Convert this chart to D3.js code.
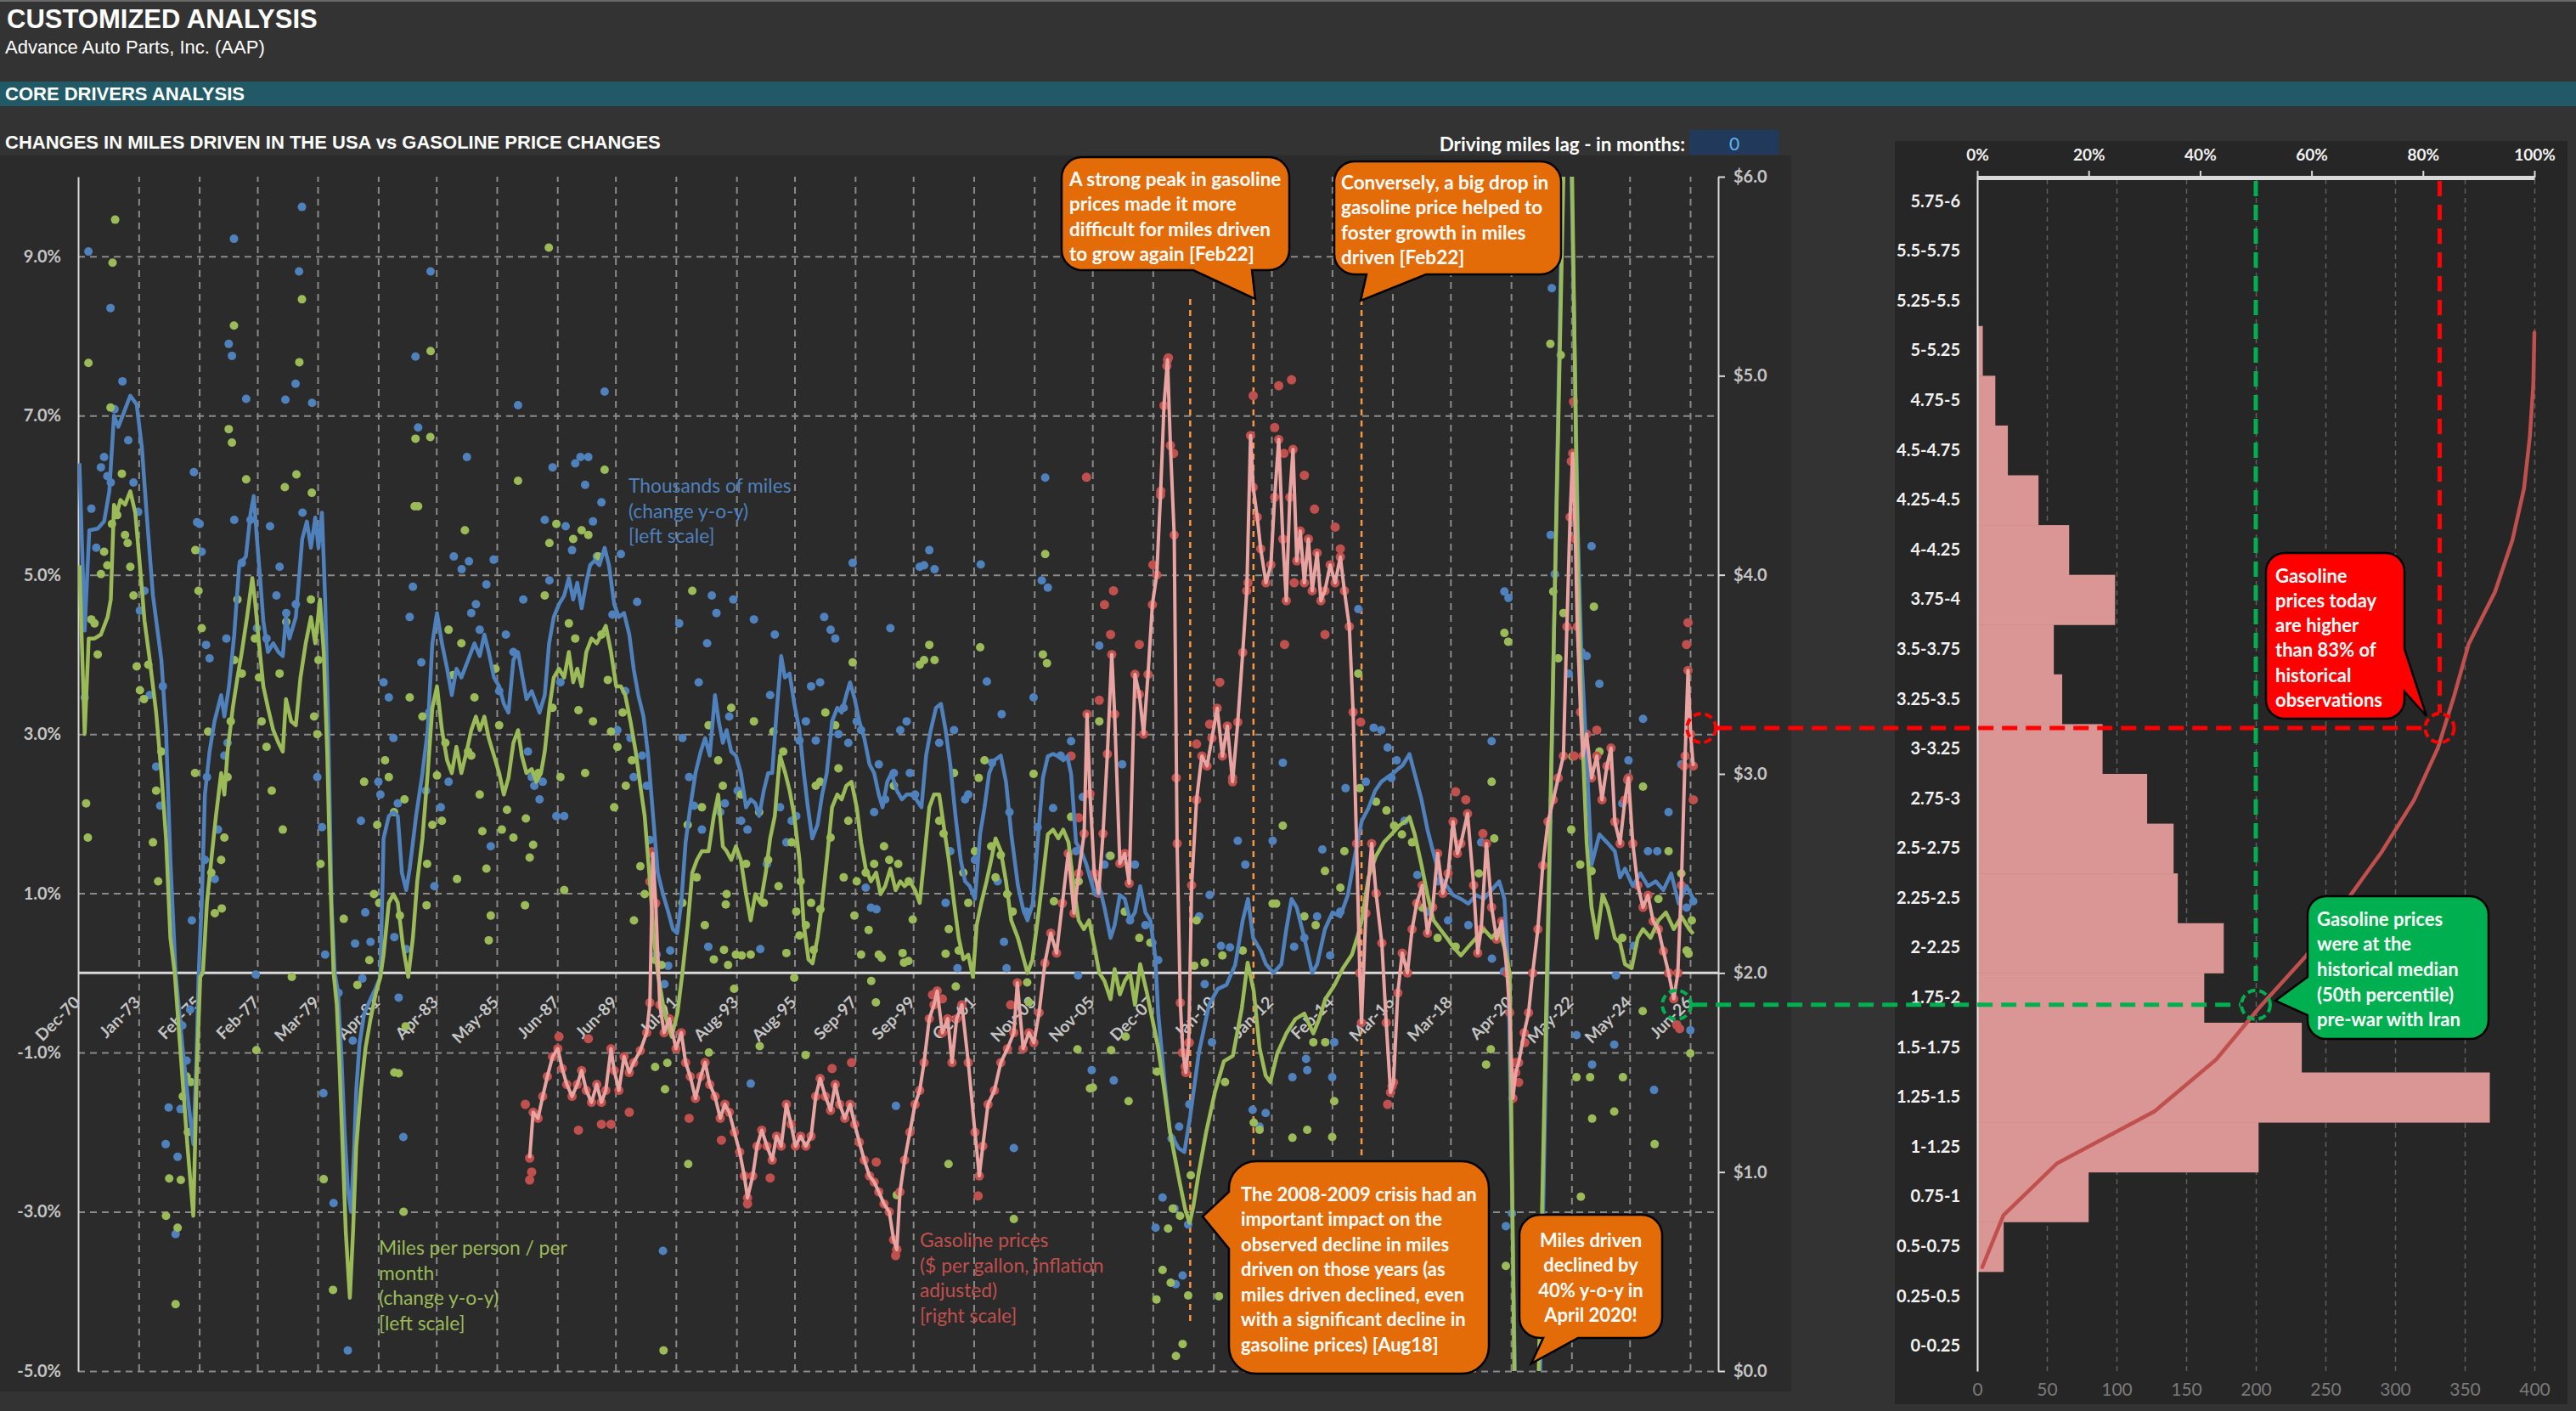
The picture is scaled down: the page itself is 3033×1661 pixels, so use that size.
<!DOCTYPE html>
<meta charset="utf-8" />
<style>
  body { margin: 0; background: #333333; }
  svg text { font-family: Lato, "Open Sans", sans-serif; }
  .hdr { font-family: "Liberation Sans", Arial, sans-serif !important; fill: #fff; }
</style>
<body>
<svg id="chart" width="3033" height="1661"></svg>
</body>
<script src="https://d3js.org/d3.v7.min.js"></script>
<script>
// ---------- data ----------
const tickLabels = ["Dec-70","Jan-73","Feb-75","Feb-77","Mar-79","Apr-81","Apr-83","May-85","Jun-87","Jun-89","Jul-91","Aug-93","Aug-95","Sep-97","Sep-99","Oct-01","Nov-03","Nov-05","Dec-07","Jan-10","Jan-12","Feb-14","Mar-16","Mar-18","Apr-20","May-22","May-24","Jun-26"];
const leftTicks = [-5, -3, -1, 1, 3, 5, 7, 9];
const rightTicks = [0, 1, 2, 3, 4, 5, 6];

// thousands of miles, y-o-y % (smoothed line)
const blueLine = [[1970.96,6.4],[1971.14,4.3],[1971.3,5.56],[1971.59,5.58],[1971.81,5.67],[1971.99,6.05],[1972.15,7.0],[1972.3,6.86],[1972.48,7.03],[1972.71,7.25],[1972.93,7.14],[1973.11,6.59],[1973.27,5.78],[1973.49,4.74],[1973.78,3.93],[1973.94,3.05],[1974.09,1.42],[1974.27,0.0],[1974.5,-0.9],[1974.7,-1.6],[1974.88,-2.15],[1974.99,-1.1],[1975.06,-0.05],[1975.17,0.88],[1975.28,2.24],[1975.44,2.78],[1975.61,3.16],[1975.84,3.49],[1975.95,3.22],[1976.11,3.6],[1976.29,4.25],[1976.46,5.12],[1976.69,5.23],[1976.85,5.77],[1976.96,5.99],[1977.07,5.45],[1977.18,4.96],[1977.29,4.42],[1977.45,4.03],[1977.63,4.14],[1977.81,4.03],[1977.96,3.98],[1978.07,4.47],[1978.19,4.2],[1978.41,4.47],[1978.63,5.45],[1978.79,5.67],[1978.93,5.34],[1979.08,5.72],[1979.19,5.34],[1979.31,5.78],[1979.42,4.69],[1979.53,3.05],[1979.64,0.88],[1979.75,0.0],[1979.86,-0.23],[1979.98,-1.04],[1980.09,-2.0],[1980.2,-2.71],[1980.31,-3.0],[1980.42,-2.18],[1980.49,-1.47],[1980.6,-0.9],[1980.76,-0.51],[1980.98,-0.33],[1981.16,-0.19],[1981.32,-0.05],[1981.43,1.69],[1981.61,1.97],[1981.77,2.02],[1981.92,1.97],[1982.06,1.26],[1982.21,1.04],[1982.33,1.31],[1982.55,1.97],[1982.77,2.51],[1982.95,3.05],[1983.11,4.14],[1983.27,4.52],[1983.44,4.14],[1983.62,3.82],[1983.78,3.49],[1983.94,3.82],[1984.11,3.71],[1984.34,3.93],[1984.56,4.14],[1984.74,3.98],[1984.9,4.25],[1985.05,4.03],[1985.23,3.71],[1985.41,3.6],[1985.57,3.38],[1985.73,3.27],[1985.9,3.93],[1986.06,4.03],[1986.19,3.76],[1986.35,3.44],[1986.53,3.54],[1986.69,3.38],[1986.8,3.27],[1986.98,3.49],[1987.13,4.14],[1987.29,4.47],[1987.47,4.63],[1987.65,4.74],[1987.81,4.96],[1987.96,4.69],[1988.1,4.9],[1988.25,4.58],[1988.41,4.9],[1988.54,5.12],[1988.7,5.18],[1988.86,5.12],[1989.04,5.34],[1989.19,5.12],[1989.37,4.63],[1989.53,4.47],[1989.71,4.52],[1989.89,4.25],[1990.04,3.82],[1990.2,3.49],[1990.38,3.22],[1990.54,2.73],[1990.71,1.97],[1990.87,1.26],[1991.05,0.99],[1991.23,0.77],[1991.39,0.55],[1991.54,0.5],[1991.68,0.88],[1991.83,1.64],[1991.99,2.08],[1992.17,2.51],[1992.35,2.78],[1992.5,2.95],[1992.66,2.73],[1992.84,3.49],[1992.97,3.16],[1993.11,2.89],[1993.24,3.05],[1993.4,2.78],[1993.56,2.73],[1993.73,2.51],[1993.91,2.08],[1994.07,2.18],[1994.23,2.13],[1994.36,1.97],[1994.52,2.29],[1994.67,2.51],[1994.81,2.51],[1994.96,3.27],[1995.12,3.98],[1995.25,3.71],[1995.41,3.76],[1995.57,3.38],[1995.75,3.05],[1995.9,2.51],[1996.04,2.08],[1996.19,1.69],[1996.37,1.86],[1996.53,2.24],[1996.69,2.51],[1996.87,3.16],[1997.05,3.33],[1997.2,3.27],[1997.36,3.49],[1997.49,3.65],[1997.65,3.44],[1997.81,3.16],[1997.98,2.95],[1998.16,2.62],[1998.32,2.51],[1998.48,2.24],[1998.61,2.08],[1998.77,2.4],[1998.92,2.51],[1999.1,2.29],[1999.28,2.18],[1999.44,2.24],[1999.59,2.24],[1999.77,2.18],[1999.95,2.08],[2000.11,2.73],[2000.27,3.05],[2000.45,3.33],[2000.62,3.38],[2000.78,3.05],[2000.94,2.62],[2001.12,1.97],[2001.3,1.42],[2001.45,1.15],[2001.61,1.09],[2001.79,0.93],[2001.97,1.75],[2002.12,2.08],[2002.28,2.51],[2002.46,2.67],[2002.68,2.73],[2002.86,2.4],[2003.04,1.75],[2003.27,1.1],[2003.45,0.8],[2003.6,0.66],[2003.78,0.87],[2003.95,1.64],[2004.13,2.45],[2004.3,2.72],[2004.48,2.75],[2004.66,2.72],[2004.83,2.67],[2004.97,2.72],[2005.1,2.5],[2005.27,1.64],[2005.45,1.53],[2005.63,1.36],[2005.75,1.2],[2005.93,0.98],[2006.07,1.09],[2006.25,0.82],[2006.46,0.44],[2006.6,0.6],[2006.78,0.98],[2006.95,0.93],[2007.13,0.66],[2007.3,0.76],[2007.48,1.09],[2007.66,0.76],[2007.83,0.66],[2008.0,0.2],[2008.1,-0.5],[2008.3,-1.3],[2008.5,-2.0],[2008.8,-2.2],[2009.0,-2.25],[2009.2,-1.8],[2009.5,-1.0],[2009.85,-0.4],[2010.15,-0.2],[2010.45,-0.15],[2010.75,0.1],[2011.01,0.66],[2011.19,0.93],[2011.37,0.44],[2011.63,0.28],[2011.81,0.11],[2012.07,0.0],[2012.34,0.11],[2012.51,0.55],[2012.69,0.93],[2012.87,0.82],[2013.13,0.44],[2013.4,0.0],[2013.57,0.11],[2013.84,0.55],[2014.1,0.76],[2014.37,0.71],[2014.63,0.98],[2014.9,1.53],[2015.11,1.91],[2015.34,2.07],[2015.57,2.29],[2015.78,2.4],[2015.96,2.45],[2016.17,2.5],[2016.35,2.56],[2016.52,2.61],[2016.75,2.75],[2016.93,2.5],[2017.16,2.18],[2017.37,1.8],[2017.6,1.47],[2017.81,1.2],[2018.04,1.09],[2018.25,0.98],[2018.52,0.93],[2018.78,0.87],[2019.05,0.98],[2019.31,0.93],[2019.58,1.04],[2019.84,1.15],[2020.02,0.93],[2020.16,0.0],[2020.38,-5],[2020.5,-12],[2021.0,-10],[2021.25,-5],[2022.02,10],[2022.15,12],[2022.25,12],[2022.33,10],[2022.55,5.5],[2022.67,4.0],[2022.85,2.7],[2023.02,1.36],[2023.29,1.74],[2023.55,1.64],[2023.82,1.53],[2024.0,1.2],[2024.17,1.31],[2024.44,1.09],[2024.7,1.25],[2024.96,1.09],[2025.23,1.15],[2025.49,1.04],[2025.76,1.25],[2026.02,0.87],[2026.29,1.09],[2026.52,0.93]];

// miles per person per month, y-o-y % (smoothed line)
const greenLine = [[1970.96,5.12],[1971.14,3.0],[1971.28,4.2],[1971.48,4.2],[1971.7,4.25],[1971.93,4.47],[1972.04,4.69],[1972.15,5.88],[1972.26,5.78],[1972.37,5.94],[1972.53,5.88],[1972.71,6.05],[1972.88,5.78],[1973.04,5.12],[1973.2,4.42],[1973.38,3.93],[1973.6,3.27],[1973.78,2.51],[1973.94,1.69],[1974.09,0.44],[1974.24,0.0],[1974.32,-0.4],[1974.5,-1.29],[1974.68,-2.18],[1974.88,-3.05],[1975.01,-1.12],[1975.12,-0.05],[1975.21,0.0],[1975.35,0.88],[1975.5,1.42],[1975.66,1.97],[1975.84,2.51],[1975.95,2.24],[1976.06,2.78],[1976.24,3.33],[1976.4,3.71],[1976.55,4.03],[1976.73,4.47],[1976.91,4.96],[1977.0,4.69],[1977.14,4.14],[1977.29,3.6],[1977.45,3.33],[1977.63,3.05],[1977.81,2.89],[1977.96,2.78],[1978.07,3.44],[1978.25,3.16],[1978.41,3.11],[1978.57,3.71],[1978.75,4.14],[1978.93,4.47],[1979.08,4.14],[1979.24,4.69],[1979.37,4.03],[1979.49,2.78],[1979.6,1.15],[1979.71,0.0],[1979.82,-0.4],[1979.91,-1.12],[1980.02,-2.18],[1980.13,-3.25],[1980.27,-4.08],[1980.38,-3.25],[1980.49,-2.18],[1980.65,-1.47],[1980.81,-0.94],[1980.98,-0.58],[1981.16,-0.26],[1981.32,-0.05],[1981.43,0.23],[1981.61,0.88],[1981.77,0.99],[1981.92,0.88],[1982.1,0.33],[1982.28,-0.05],[1982.44,0.44],[1982.59,1.15],[1982.77,1.69],[1982.95,2.51],[1983.11,3.33],[1983.27,3.6],[1983.44,3.05],[1983.62,2.67],[1983.78,2.51],[1983.94,2.84],[1984.11,2.51],[1984.29,2.78],[1984.45,3.05],[1984.61,3.22],[1984.74,3.05],[1984.9,3.22],[1985.05,2.95],[1985.23,2.73],[1985.41,2.51],[1985.57,2.24],[1985.73,2.45],[1985.9,2.89],[1986.06,3.05],[1986.19,2.73],[1986.35,2.51],[1986.53,2.56],[1986.69,2.4],[1986.85,2.51],[1986.98,2.78],[1987.14,3.33],[1987.29,3.71],[1987.47,3.82],[1987.65,3.71],[1987.81,4.03],[1987.96,3.65],[1988.1,3.82],[1988.25,3.6],[1988.41,4.03],[1988.59,4.2],[1988.77,4.14],[1988.93,4.25],[1989.08,4.36],[1989.26,4.03],[1989.44,3.6],[1989.6,3.6],[1989.75,3.49],[1989.93,3.16],[1990.11,2.78],[1990.27,2.35],[1990.42,1.97],[1990.6,1.15],[1990.74,0.44],[1990.87,0.0],[1991.1,-0.5],[1991.35,-0.8],[1991.55,-0.5],[1991.72,0.0],[1991.9,0.6],[1992.06,1.26],[1992.22,1.42],[1992.39,1.53],[1992.62,1.53],[1992.8,1.97],[1992.95,2.24],[1993.11,1.59],[1993.24,1.53],[1993.4,1.42],[1993.56,1.59],[1993.73,1.42],[1993.91,0.99],[1994.07,0.66],[1994.23,0.99],[1994.41,0.88],[1994.59,1.26],[1994.74,1.69],[1994.9,1.97],[1995.08,2.73],[1995.26,2.51],[1995.41,2.29],[1995.57,1.97],[1995.75,1.42],[1995.9,0.6],[1996.06,0.17],[1996.2,0.12],[1996.37,0.44],[1996.53,0.88],[1996.69,1.42],[1996.87,2.08],[1997.05,2.24],[1997.2,2.18],[1997.36,2.35],[1997.54,2.4],[1997.72,2.08],[1997.87,1.64],[1998.03,1.31],[1998.21,1.15],[1998.39,1.26],[1998.54,0.99],[1998.7,1.09],[1998.88,1.31],[1999.06,1.04],[1999.22,1.15],[1999.37,1.09],[1999.55,1.15],[1999.73,1.04],[1999.89,0.88],[2000.04,1.42],[2000.22,2.08],[2000.38,2.24],[2000.56,2.24],[2000.71,1.86],[2000.89,1.42],[2001.07,0.88],[2001.23,0.44],[2001.39,0.17],[2001.56,0.23],[2001.72,-0.05],[2001.85,0.6],[2002.01,0.88],[2002.19,1.15],[2002.35,1.42],[2002.5,1.69],[2002.68,1.53],[2002.86,1.15],[2003.04,0.66],[2003.27,0.44],[2003.6,0.0],[2003.77,0.17],[2003.95,0.66],[2004.13,1.2],[2004.3,1.74],[2004.48,1.8],[2004.66,1.69],[2004.83,1.8],[2005.01,1.64],[2005.19,1.09],[2005.36,0.66],[2005.54,0.55],[2005.72,0.66],[2005.93,0.28],[2006.07,0.0],[2006.25,-0.1],[2006.46,-0.33],[2006.6,0.05],[2006.78,-0.27],[2006.95,-0.1],[2007.13,0.0],[2007.3,-0.4],[2007.48,0.11],[2007.7,-0.23],[2007.9,-0.58],[2008.1,-0.94],[2008.31,-1.47],[2008.51,-2.0],[2008.66,-2.29],[2008.85,-2.65],[2009.03,-2.97],[2009.18,-3.14],[2009.31,-2.93],[2009.5,-2.5],[2009.75,-2.0],[2010.05,-1.5],[2010.36,-1.11],[2010.67,-1.04],[2010.98,-0.44],[2011.18,0.13],[2011.39,-0.23],[2011.59,-0.94],[2011.8,-1.29],[2011.96,-1.37],[2012.2,-1.01],[2012.51,-0.76],[2012.82,-0.58],[2013.13,-0.51],[2013.44,-0.76],[2013.64,-0.58],[2013.85,-0.33],[2014.16,-0.16],[2014.46,0.06],[2014.77,0.23],[2014.98,0.48],[2015.11,0.66],[2015.34,1.2],[2015.6,1.47],[2015.87,1.64],[2016.13,1.74],[2016.4,1.85],[2016.63,1.91],[2016.75,1.96],[2016.93,1.74],[2017.16,1.36],[2017.37,0.98],[2017.58,0.66],[2017.81,0.55],[2018.04,0.44],[2018.25,0.33],[2018.52,0.22],[2018.78,0.33],[2019.05,0.44],[2019.31,0.55],[2019.58,0.44],[2019.84,0.55],[2020.05,0.28],[2020.2,0.0],[2020.36,-5],[2020.45,-12],[2021.0,-10],[2021.2,-5],[2022.05,10],[2022.15,13],[2022.25,13],[2022.35,10],[2022.55,5],[2022.67,3.27],[2022.85,1.64],[2023.02,0.82],[2023.2,0.44],[2023.4,0.98],[2023.58,0.82],[2023.82,0.44],[2024.0,0.38],[2024.17,0.11],[2024.4,0.06],[2024.61,0.44],[2024.79,0.55],[2025.05,0.44],[2025.32,0.66],[2025.58,0.76],[2025.85,0.55],[2026.11,0.71],[2026.38,0.55],[2026.52,0.49]];

// gasoline price, $ per gallon inflation adjusted
const redLine = [[1986.46,1.07],[1986.58,1.3],[1986.75,1.27],[1986.91,1.38],[1987.07,1.48],[1987.25,1.58],[1987.43,1.62],[1987.58,1.52],[1987.74,1.44],[1987.92,1.38],[1988.1,1.44],[1988.25,1.51],[1988.41,1.41],[1988.59,1.35],[1988.77,1.44],[1988.93,1.35],[1989.08,1.41],[1989.26,1.62],[1989.37,1.51],[1989.53,1.41],[1989.71,1.58],[1989.89,1.5],[1990.04,1.55],[1990.27,1.61],[1990.49,1.7],[1990.6,1.85],[1990.7,2.6],[1990.8,2.35],[1990.94,1.84],[1991.09,1.7],[1991.27,1.77],[1991.5,1.62],[1991.68,1.7],[1991.83,1.55],[1991.99,1.48],[1992.17,1.37],[1992.35,1.48],[1992.5,1.55],[1992.66,1.44],[1992.84,1.38],[1993.02,1.27],[1993.18,1.34],[1993.33,1.3],[1993.51,1.2],[1993.69,1.1],[1993.85,0.98],[1993.96,0.87],[1994.14,0.98],[1994.29,1.13],[1994.45,1.21],[1994.63,1.13],[1994.81,1.06],[1994.96,1.18],[1995.12,1.13],[1995.3,1.34],[1995.46,1.24],[1995.61,1.13],[1995.79,1.18],[1995.97,1.13],[1996.15,1.18],[1996.31,1.38],[1996.46,1.47],[1996.64,1.38],[1996.82,1.31],[1996.98,1.44],[1997.13,1.34],[1997.31,1.27],[1997.49,1.34],[1997.65,1.24],[1997.81,1.15],[1997.98,1.06],[1998.16,0.98],[1998.32,0.95],[1998.48,0.9],[1998.66,0.84],[1998.84,0.8],[1998.99,0.66],[1999.1,0.61],[1999.21,0.9],[1999.37,1.06],[1999.55,1.2],[1999.73,1.34],[1999.89,1.41],[2000.04,1.55],[2000.22,1.77],[2000.38,1.84],[2000.49,1.91],[2000.67,1.7],[2000.85,1.77],[2001.0,1.55],[2001.16,1.77],[2001.34,1.84],[2001.56,1.55],[2001.79,1.2],[2001.94,0.98],[2002.06,1.13],[2002.24,1.34],[2002.46,1.41],[2002.68,1.55],[2002.91,1.62],[2003.13,1.7],[2003.25,1.95],[2003.45,1.62],[2003.65,1.7],[2003.82,1.65],[2004.0,1.8],[2004.2,2.05],[2004.4,2.2],[2004.6,2.1],[2004.8,2.35],[2005.0,2.6],[2005.2,2.3],[2005.36,2.5],[2005.55,2.7],[2005.65,3.3],[2005.75,2.9],[2005.9,2.5],[2006.05,2.4],[2006.2,2.7],[2006.35,3.1],[2006.5,3.6],[2006.6,3.3],[2006.78,2.55],[2006.95,2.6],[2007.1,2.45],[2007.3,3.5],[2007.45,3.4],[2007.6,3.2],[2007.75,3.5],[2007.9,3.85],[2008.05,4.0],[2008.18,4.4],[2008.3,4.85],[2008.42,5.08],[2008.52,4.65],[2008.65,4.2],[2008.75,2.65],[2008.86,1.85],[2008.95,1.6],[2009.05,1.5],[2009.15,1.65],[2009.25,2.44],[2009.42,2.87],[2009.6,3.09],[2009.78,3.04],[2009.95,3.18],[2010.13,3.33],[2010.31,3.09],[2010.48,3.24],[2010.66,2.96],[2010.84,3.26],[2011.01,3.61],[2011.15,3.92],[2011.28,4.7],[2011.37,4.44],[2011.51,4.29],[2011.63,4.13],[2011.81,3.96],[2011.98,4.05],[2012.11,4.39],[2012.25,4.68],[2012.39,4.18],[2012.51,3.87],[2012.63,4.39],[2012.74,4.63],[2012.87,4.07],[2012.99,4.22],[2013.13,3.96],[2013.27,4.18],[2013.4,3.92],[2013.57,4.11],[2013.7,3.87],[2013.84,3.92],[2014.02,4.05],[2014.19,3.96],[2014.37,4.09],[2014.51,3.92],[2014.68,3.74],[2014.81,3.31],[2014.93,2.65],[2015.04,2.0],[2015.1,1.75],[2015.25,2.3],[2015.45,2.65],[2015.6,2.4],[2015.8,2.15],[2015.95,1.75],[2016.1,1.4],[2016.2,1.45],[2016.35,1.9],[2016.5,2.1],[2016.68,2.0],[2016.84,2.22],[2017.0,2.35],[2017.19,2.44],[2017.37,2.2],[2017.55,2.33],[2017.72,2.6],[2017.9,2.4],[2018.08,2.5],[2018.25,2.76],[2018.4,2.6],[2018.52,2.65],[2018.75,2.8],[2018.96,2.44],[2019.1,2.1],[2019.22,2.22],[2019.4,2.65],[2019.58,2.33],[2019.75,2.17],[2019.93,2.26],[2020.11,2.0],[2020.2,1.8],[2020.31,1.37],[2020.41,1.5],[2020.51,1.55],[2020.7,1.7],[2020.85,1.8],[2020.99,2.0],[2021.17,2.22],[2021.34,2.54],[2021.52,2.76],[2021.7,2.87],[2021.87,2.98],[2022.05,3.09],[2022.17,3.74],[2022.28,4.29],[2022.37,4.61],[2022.46,4.18],[2022.53,3.74],[2022.64,3.31],[2022.72,3.09],[2022.85,3.2],[2023.02,2.98],[2023.2,3.09],[2023.38,2.87],[2023.55,3.04],[2023.69,3.13],[2023.82,2.76],[2024.0,2.65],[2024.17,2.87],[2024.29,2.98],[2024.44,2.65],[2024.61,2.44],[2024.79,2.33],[2024.96,2.39],[2025.14,2.26],[2025.32,2.22],[2025.49,2.11],[2025.67,2.0],[2025.85,1.87],[2025.99,2.0],[2026.11,2.44],[2026.24,3.09],[2026.34,3.52],[2026.43,3.2],[2026.52,3.04]];

// raw monthly observations (dots)
const blueDots = [[1971.14,3.46],[1971.27,9.06],[1971.37,5.83],[1971.54,5.34],[1971.7,6.35],[1971.81,6.48],[1971.92,6.24],[1972.03,8.35],[1972.04,6.16],[1972.17,7.08],[1972.44,7.43],[1972.64,6.69],[1972.82,6.16],[1972.98,5.79],[1973.04,4.55],[1973.2,4.8],[1973.38,3.49],[1973.6,2.59],[1973.74,2.1],[1973.83,3.6],[1973.93,-2.15],[1974.03,-1.69],[1974.27,-3.28],[1974.34,-2.31],[1974.44,-1.71],[1974.5,-0.66],[1974.65,-1.1],[1974.77,-0.46],[1974.83,0.66],[1974.9,6.29],[1975.01,5.66],[1975.1,5.64],[1975.17,5.29],[1975.28,1.42],[1975.32,4.12],[1975.35,2.46],[1975.44,3.95],[1975.62,1.18],[1975.73,1.8],[1975.95,2.73],[1976.02,4.2],[1976.06,2.89],[1976.1,7.9],[1976.21,7.75],[1976.28,9.22],[1976.29,5.69],[1976.55,5.15],[1976.7,7.21],[1976.85,5.69],[1977.03,-0.02],[1977.07,4.33],[1977.4,4.2],[1977.52,5.61],[1977.74,4.74],[1977.85,5.1],[1978.05,7.2],[1978.08,4.52],[1978.4,7.4],[1978.41,4.63],[1978.52,8.81],[1978.62,9.62],[1978.64,5.78],[1978.97,7.16],[1979.15,2.46],[1979.31,1.83],[1979.36,-1.51],[1979.42,0.23],[1979.71,-2.89],[1979.88,-0.25],[1980.2,-4.74],[1980.37,-0.85],[1980.45,0.37],[1980.65,1.91],[1980.7,-0.07],[1980.8,0.76],[1980.98,0.39],[1981.25,2.4],[1981.32,2.24],[1981.43,3.65],[1981.61,3.46],[1981.77,2.95],[1981.8,0.45],[1981.92,2.13],[1981.95,-0.31],[1982.11,-2.06],[1982.21,0.3],[1982.33,4.47],[1982.44,4.85],[1982.53,7.74],[1982.62,6.85],[1982.73,3.9],[1982.89,2.29],[1983.0,3.27],[1983.05,8.81],[1983.18,1.09],[1983.4,2.08],[1983.67,2.4],[1983.85,5.23],[1984.12,5.07],[1984.3,6.48],[1984.37,5.17],[1984.45,4.52],[1984.61,4.63],[1984.74,4.31],[1984.97,4.88],[1985.12,1.59],[1985.22,5.19],[1985.41,3.54],[1985.64,4.25],[1985.9,4.03],[1986.06,7.13],[1986.24,4.69],[1986.4,2.78],[1986.53,2.46],[1986.62,2.35],[1986.8,2.18],[1986.91,2.4],[1986.98,5.69],[1987.14,4.93],[1987.25,6.35],[1987.38,1.97],[1987.52,3.65],[1987.65,1.97],[1987.7,5.61],[1987.92,5.31],[1988.03,6.4],[1988.21,6.48],[1988.37,6.13],[1988.48,6.48],[1988.64,5.67],[1988.77,5.23],[1988.93,5.91],[1989.04,7.3],[1989.31,4.5],[1989.48,3.05],[1989.6,5.26],[1989.75,3.54],[1989.93,2.95],[1990.04,2.46],[1990.16,4.66],[1990.33,2.73],[1990.49,2.35],[1990.6,1.67],[1990.83,0.23],[1991.05,-3.49],[1991.1,-0.14],[1991.23,0.09],[1991.3,0.28],[1991.61,4.39],[1991.72,2.95],[1991.95,2.46],[1992.12,2.1],[1992.28,3.65],[1992.39,1.8],[1992.57,4.14],[1992.61,0.33],[1992.73,4.74],[1992.89,4.52],[1993.02,2.02],[1993.18,2.13],[1993.33,3.22],[1993.47,4.69],[1993.62,2.29],[1993.74,1.91],[1993.96,1.8],[1994.07,-1.39],[1994.18,4.44],[1994.4,0.3],[1994.63,1.37],[1994.74,3.49],[1994.9,4.25],[1995.08,2.08],[1995.3,1.64],[1995.48,1.91],[1995.64,1.97],[1995.75,2.92],[1995.97,3.16],[1996.15,3.6],[1996.31,2.92],[1996.46,3.65],[1996.6,4.47],[1996.82,4.31],[1996.98,4.2],[1997.09,3.0],[1997.27,3.33],[1997.43,2.89],[1997.58,5.15],[1997.72,3.16],[1997.87,3.05],[1998.03,1.07],[1998.21,0.82],[1998.32,2.02],[1998.4,0.8],[1998.48,2.62],[1998.7,2.18],[1998.88,4.33],[1999.0,2.51],[1999.07,-1.67],[1999.22,3.05],[1999.44,3.16],[1999.55,2.51],[1999.73,2.24],[1999.89,5.1],[2000.04,5.12],[2000.22,5.31],[2000.4,5.07],[2000.56,2.89],[2000.78,0.88],[2000.94,1.53],[2001.07,3.05],[2001.19,0.06],[2001.45,2.18],[2001.56,2.24],[2001.79,1.42],[2001.99,5.13],[2002.2,3.66],[2002.38,2.64],[2002.57,1.15],[2002.71,3.25],[2002.79,0.39],[2002.88,0.06],[2002.98,2.02],[2003.13,-2.2],[2003.56,0.77],[2003.81,3.46],[2003.95,1.83],[2004.09,4.93],[2004.21,6.22],[2004.3,4.84],[2004.48,2.07],[2004.74,2.73],[2005.1,2.91],[2005.27,1.53],[2005.34,-0.03],[2005.5,2.21],[2005.81,-1.22],[2006.07,4.11],[2006.25,1.36],[2006.42,1.47],[2006.57,-1.35],[2006.86,2.62],[2007.13,0.66],[2007.3,1.36],[2007.66,0.6],[2007.9,0.38],[2008.01,-3.2],[2008.1,0.16],[2008.25,-2.82],[2008.56,-2.08],[2008.66,-2.96],[2008.7,-3.91],[2008.82,-1.93],[2008.94,-3.8],[2009.13,-3.16],[2009.17,-1.65],[2009.51,0.71],[2009.7,-0.14],[2009.87,0.98],[2009.95,-0.87],[2010.26,0.34],[2010.57,0.32],[2010.84,1.66],[2011.1,1.36],[2011.35,-1.72],[2011.59,-1.93],[2011.8,-1.76],[2012.04,1.66],[2012.39,2.64],[2012.72,-1.31],[2012.78,0.33],[2013.13,0.44],[2013.19,-1.08],[2013.23,-1.22],[2013.57,0.71],[2013.75,1.55],[2014.02,0.22],[2014.09,-1.31],[2014.16,-0.87],[2014.37,0.77],[2014.55,2.32],[2014.99,4.57],[2015.25,2.4],[2015.52,3.08],[2015.78,3.05],[2016.0,2.83],[2016.13,2.45],[2016.31,2.67],[2016.58,1.91],[2017.02,1.23],[2017.37,0.77],[2017.72,1.15],[2018.08,0.66],[2018.78,0.6],[2019.22,1.64],[2019.58,2.91],[2019.59,0.18],[2020.0,0.02],[2020.02,4.79],[2020.07,-3.18],[2020.16,4.71],[2020.28,-3.02],[2021.55,8.9],[2021.61,5.5],[2021.65,8.6],[2021.75,5.01],[2022.23,3.76],[2022.5,-0.78],[2022.67,4.03],[2022.85,3.98],[2023.02,5.36],[2023.04,-1.15],[2023.29,3.63],[2023.8,-0.9],[2023.86,-0.03],[2024.08,2.13],[2024.29,2.67],[2024.47,0.34],[2024.79,3.19],[2024.96,1.53],[2025.17,-1.47],[2025.28,1.53],[2025.67,2.02],[2026.11,2.62],[2026.29,0.82],[2026.42,-0.72],[2026.52,0.9]];

const greenDots = [[1971.19,2.13],[1971.25,1.7],[1971.27,7.66],[1971.37,4.44],[1971.48,4.39],[1971.59,4.0],[1971.7,5.01],[1971.81,5.29],[1971.92,5.12],[1972.03,7.1],[1972.08,5.64],[1972.1,8.92],[1972.19,9.46],[1972.26,5.75],[1972.42,6.27],[1972.53,5.5],[1972.62,5.4],[1972.71,5.1],[1972.82,4.74],[1972.93,3.85],[1973.04,3.55],[1973.18,3.44],[1973.33,3.87],[1973.49,1.64],[1973.6,2.29],[1973.67,1.15],[1973.78,2.78],[1973.94,-3.05],[1974.05,-2.58],[1974.27,-4.16],[1974.34,-3.2],[1974.45,-2.6],[1974.52,-1.55],[1974.65,-1.3],[1974.69,-2.0],[1974.79,-1.37],[1974.94,2.51],[1974.95,5.31],[1975.06,4.8],[1975.17,4.33],[1975.39,3.03],[1975.5,1.26],[1975.62,0.75],[1975.84,1.42],[1975.86,0.81],[1975.95,1.7],[1976.06,2.46],[1976.1,6.83],[1976.17,3.16],[1976.21,6.66],[1976.28,8.13],[1976.29,3.93],[1976.4,4.69],[1976.55,3.76],[1976.7,6.2],[1977.0,4.2],[1977.05,-0.97],[1977.14,3.71],[1977.23,3.16],[1977.4,2.84],[1977.58,2.29],[1977.85,3.76],[1977.96,1.8],[1978.03,6.1],[1978.08,4.41],[1978.27,-0.05],[1978.43,6.26],[1978.53,7.67],[1978.62,8.46],[1978.93,4.69],[1978.96,6.03],[1979.04,3.22],[1979.15,3.0],[1979.19,3.93],[1979.26,1.37],[1979.37,-2.59],[1979.69,-3.98],[1980.06,0.68],[1980.53,-0.15],[1980.76,2.4],[1980.94,0.16],[1981.1,0.99],[1981.21,1.86],[1981.28,0.88],[1981.48,2.67],[1981.61,2.46],[1981.79,2.02],[1981.8,-1.25],[1981.95,-1.26],[1981.99,0.72],[1982.12,-3.0],[1982.15,2.18],[1982.19,-0.67],[1982.33,3.46],[1982.5,5.86],[1982.53,6.71],[1982.62,5.86],[1982.77,3.22],[1982.91,0.85],[1982.93,1.37],[1983.04,6.73],[1983.05,7.81],[1983.11,1.86],[1983.27,2.48],[1983.44,1.91],[1983.56,2.89],[1983.67,4.31],[1983.82,3.74],[1983.96,1.18],[1984.11,4.14],[1984.23,5.56],[1984.34,2.78],[1984.45,2.73],[1984.56,3.46],[1984.74,2.24],[1984.83,1.78],[1984.97,1.31],[1985.05,0.41],[1985.12,0.72],[1985.28,3.82],[1985.41,3.11],[1985.5,1.8],[1985.68,2.05],[1985.9,1.7],[1986.06,6.18],[1986.3,0.85],[1986.33,1.94],[1986.46,1.45],[1986.58,1.61],[1986.76,2.51],[1986.98,4.74],[1987.12,9.11],[1987.14,5.4],[1987.25,3.33],[1987.38,5.64],[1987.52,2.46],[1987.65,1.04],[1987.81,4.39],[1987.96,5.45],[1988.03,4.2],[1988.14,3.3],[1988.25,5.56],[1988.37,2.51],[1988.48,5.5],[1988.64,3.16],[1988.82,5.23],[1988.93,4.25],[1989.04,6.32],[1989.15,3.68],[1989.26,3.03],[1989.37,2.08],[1989.48,2.84],[1989.66,3.27],[1989.77,2.35],[1989.98,2.67],[1990.05,0.66],[1990.27,1.34],[1990.42,0.99],[1990.78,-1.18],[1990.79,0.16],[1991.0,0.1],[1991.07,-4.74],[1991.12,-1.46],[1991.2,-1.13],[1991.72,0.88],[1991.9,1.86],[1991.92,-2.4],[1992.06,4.8],[1992.21,1.2],[1992.39,2.08],[1992.49,0.6],[1992.62,3.11],[1992.63,-1.0],[1992.8,0.17],[1992.95,2.67],[1993.11,2.35],[1993.15,0.29],[1993.21,0.86],[1993.24,0.99],[1993.29,0.1],[1993.4,3.33],[1993.5,-0.2],[1993.56,0.23],[1993.74,2.24],[1993.76,0.22],[1993.91,1.37],[1994.07,0.23],[1994.18,3.16],[1994.36,2.02],[1994.38,-0.92],[1994.52,0.88],[1994.67,1.42],[1994.85,3.03],[1995.03,1.09],[1995.19,2.78],[1995.3,0.25],[1995.48,1.64],[1995.57,-0.06],[1995.64,0.77],[1995.75,0.47],[1995.79,1.15],[1995.96,-1.03],[1995.97,0.6],[1996.15,0.88],[1996.24,0.29],[1996.31,2.35],[1996.46,2.4],[1996.47,0.8],[1996.64,3.27],[1996.82,1.7],[1996.98,3.11],[1997.09,2.57],[1997.27,1.2],[1997.43,1.91],[1997.58,3.9],[1997.64,0.72],[1997.72,1.15],[1997.87,0.23],[1998.03,1.26],[1998.13,0.54],[1998.22,-0.1],[1998.32,1.37],[1998.38,-0.37],[1998.48,0.23],[1998.58,0.19],[1998.66,1.59],[1998.84,1.42],[1999.0,2.35],[1999.1,-2.79],[1999.15,1.37],[1999.3,0.25],[1999.35,0.13],[1999.5,0.15],[1999.51,1.15],[1999.65,0.67],[1999.89,3.87],[2000.04,3.93],[2000.22,4.12],[2000.4,3.93],[2000.56,1.91],[2000.71,1.75],[2000.78,0.24],[2000.88,-2.4],[2000.89,0.55],[2001.07,2.51],[2001.13,-0.17],[2001.23,0.28],[2001.39,1.26],[2001.56,0.88],[2001.79,1.53],[2001.92,2.45],[2001.97,4.09],[2002.12,2.67],[2002.35,1.59],[2002.5,1.2],[2002.68,1.48],[2002.9,0.99],[2003.09,0.77],[2003.13,-3.09],[2003.59,-0.12],[2003.65,-0.37],[2003.81,2.5],[2004.13,4.0],[2004.21,5.26],[2004.27,3.89],[2004.51,0.9],[2005.1,1.96],[2005.32,-0.96],[2005.36,1.15],[2005.75,-1.45],[2005.85,-1.44],[2006.07,3.16],[2006.46,1.47],[2006.48,-0.97],[2006.95,0.77],[2006.98,-0.8],[2007.08,-1.61],[2007.45,0.44],[2007.83,0.38],[2008.04,-4.1],[2008.06,-1.24],[2008.25,-3.73],[2008.44,-3.21],[2008.53,-3.89],[2008.6,-2.96],[2008.71,-4.81],[2008.85,-3.05],[2008.94,-4.66],[2009.13,-4.05],[2009.22,-2.54],[2009.34,0.09],[2009.42,0.66],[2009.7,0.13],[2010.19,-4.06],[2010.31,0.22],[2010.4,-1.37],[2011.01,0.28],[2011.39,-1.88],[2011.59,-1.97],[2012.04,0.87],[2012.16,0.87],[2012.39,1.85],[2012.72,-2.07],[2013.13,0.71],[2013.23,-1.97],[2013.44,-0.87],[2013.52,0.6],[2013.84,1.28],[2013.85,-0.87],[2014.09,-2.06],[2014.16,-1.61],[2014.37,1.07],[2014.51,1.53],[2014.99,3.76],[2015.04,2.32],[2015.6,2.15],[2015.96,2.04],[2016.22,1.85],[2016.49,1.74],[2016.84,1.64],[2017.19,0.82],[2017.72,0.44],[2018.34,0.33],[2019.14,1.25],[2019.39,-1.15],[2019.55,-0.96],[2019.58,2.4],[2019.67,1.69],[2020.02,4.27],[2020.07,-3.68],[2020.15,4.16],[2021.6,7.9],[2021.7,4.79],[2021.87,3.95],[2021.96,7.76],[2022.05,4.52],[2022.32,1.8],[2022.36,2.72],[2022.5,-1.31],[2022.63,1.36],[2022.65,-2.81],[2022.97,-1.31],[2023.02,1.28],[2023.04,-1.83],[2023.1,4.6],[2023.29,2.78],[2023.8,-1.74],[2024.08,0.44],[2024.1,-1.31],[2024.78,-0.48],[2024.79,2.34],[2025.19,-2.15],[2025.32,0.93],[2025.67,1.53],[2026.11,1.25],[2026.29,0.28],[2026.36,0.24],[2026.42,-1.01],[2026.47,0.66]];

const redDots = [[1986.31,1.34],[1986.46,0.96],[1986.53,1.0],[1987.47,1.68],[1988.14,1.21],[1988.48,1.67],[1988.93,1.24],[1989.26,1.24],[1989.89,1.3],[1990.6,2.46],[1990.67,2.61],[1991.95,1.27],[1993.06,1.16],[1993.96,0.84],[1994.74,0.97],[1996.87,1.52],[1997.54,1.55],[1998.39,1.05],[1999.06,0.58],[1999.1,0.61],[2000.33,1.89],[2000.67,1.87],[2001.9,0.88],[2003.02,1.84],[2005.1,3.09],[2005.36,2.78],[2005.63,4.49],[2006.07,3.37],[2006.25,3.85],[2006.46,3.7],[2006.56,3.92],[2007.45,3.65],[2007.92,4.05],[2008.19,4.42],[2008.4,5.05],[2008.45,5.09],[2008.63,4.61],[2008.72,2.98],[2008.93,1.6],[2009.03,1.53],[2009.17,1.65],[2009.42,3.15],[2009.87,3.25],[2010.22,3.46],[2010.66,2.98],[2011.19,3.96],[2011.37,4.9],[2012.11,4.74],[2012.25,4.95],[2012.43,4.61],[2012.45,3.65],[2012.69,4.98],[2012.78,3.96],[2013.13,4.5],[2013.48,4.33],[2013.84,3.7],[2014.19,4.24],[2014.37,4.13],[2015.07,3.26],[2016.0,1.34],[2016.15,1.43],[2018.34,2.91],[2018.69,2.87],[2019.28,2.7],[2020.31,1.37],[2020.41,1.55],[2020.51,1.45],[2020.72,1.65],[2022.32,4.57],[2022.4,4.87],[2022.42,3.09],[2023.2,3.22],[2024.26,2.97],[2025.95,1.74],[2026.05,1.72],[2026.2,3.04],[2026.29,3.65],[2026.34,3.76],[2026.52,2.87]];

// histogram of gasoline prices
const priceBins = ["0-0.25","0.25-0.5","0.5-0.75","0.75-1","1-1.25","1.25-1.5","1.5-1.75","1.75-2","2-2.25","2.25-2.5","2.5-2.75","2.75-3","3-3.25","3.25-3.5","3.5-3.75","3.75-4","4-4.25","4.25-4.5","4.5-4.75","4.75-5","5-5.25","5.25-5.5","5.5-5.75","5.75-6"];
const binCounts = [0,0,19,80,202,368,233,163,177,144,141,122,90,61,55,99,66,44,22,13,4,0,0,0];
const countTicks = [0,50,100,150,200,250,300,350,400];
const pctTicks = [0,0.2,0.4,0.6,0.8,1];

// reference markers
const todayPrice = 3.23, todayPct = 0.83, todayDate = 2026.8;
const prewarPrice = 1.84, prewarPct = 0.5, prewarDate = 2025.95;
const markerDates = [2009.2, 2011.38, 2015.1];

// ---------- setup ----------
const svg = d3.select("#chart");
const W = 3033, H = 1661;
const plot = { left: 92, right: 2023, top: 208, bottom: 1614 };

const toDate = (v) => {
  const y = Math.floor(v);
  const a = new Date(y, 0, 1), b = new Date(y + 1, 0, 1);
  return new Date(+a + (v - y) * (b - a));
};
const parseTick = d3.timeParse("%b-%y");
const tickDates = tickLabels.map(parseTick);

const x = d3.scaleTime().domain([tickDates[0], tickDates[tickDates.length - 1]]).range([92, 1990]);
const yL = d3.scaleLinear().domain([-5, 10]).range([plot.bottom, plot.top]);
const yR = d3.scaleLinear().domain([0, 6]).range([plot.bottom, plot.top]);

// background pieces
svg.append("rect").attr("width", W).attr("height", H).attr("fill", "#333333");
svg.append("rect").attr("width", W).attr("height", 2).attr("fill", "#6a6a6a");
svg.append("rect").attr("x", 0).attr("y", 96).attr("width", W).attr("height", 29).attr("fill", "#215967");
svg.append("rect").attr("x", 0).attr("y", 183).attr("width", 2109).attr("height", 1455).attr("fill", "#2b2b2b");
svg.append("rect").attr("x", 2231).attr("y", 166).attr("width", 792).attr("height", 1487).attr("fill", "#262626");

// header
svg.append("text").attr("class", "hdr").attr("x", 8).attr("y", 33)
  .style("font-size", "31px").style("font-weight", "bold").text("CUSTOMIZED ANALYSIS");
svg.append("text").attr("class", "hdr").attr("x", 6).attr("y", 63)
  .style("font-size", "22px").text("Advance Auto Parts, Inc. (AAP)");
svg.append("text").attr("class", "hdr").attr("x", 6).attr("y", 118)
  .style("font-size", "22px").style("font-weight", "bold").text("CORE DRIVERS ANALYSIS");
svg.append("text").attr("class", "hdr").attr("x", 6).attr("y", 175)
  .style("font-size", "22px").style("font-weight", "bold")
  .text("CHANGES IN MILES DRIVEN IN THE USA vs GASOLINE PRICE CHANGES");
svg.append("text").attr("x", 1984).attr("y", 169).attr("text-anchor", "end")
  .attr("dominant-baseline", "central").attr("fill", "#fff")
  .style("font-size", "22.5px").style("font-weight", "bold").text("Driving miles lag - in months:");
svg.append("rect").attr("x", 1989).attr("y", 153).attr("width", 106).attr("height", 29).attr("fill", "#213a5c");
svg.append("text").attr("x", 2042).attr("y", 168).attr("text-anchor", "middle")
  .attr("dominant-baseline", "central").attr("fill", "#5fb6f2").style("font-size", "21px").text("0");

// ---------- main chart grid ----------
const grid = svg.append("g");
grid.append("g").attr("transform", `translate(${plot.left},0)`)
  .call(d3.axisLeft(yL).tickValues(leftTicks).tickSize(-(plot.right - plot.left)).tickFormat(""))
  .call(g => g.select(".domain").remove())
  .selectAll("line").attr("stroke", "#8a8a8a").attr("stroke-width", 2).attr("stroke-dasharray", "8,6");
grid.append("g").attr("transform", `translate(0,${plot.bottom})`)
  .call(d3.axisBottom(x).tickValues(tickDates.slice(1)).tickSize(-(plot.bottom - plot.top)).tickFormat(""))
  .call(g => g.select(".domain").remove())
  .selectAll("line").attr("stroke", "#8a8a8a").attr("stroke-width", 2).attr("stroke-dasharray", "8,6");

// orange event markers
svg.append("g").selectAll("line").data(markerDates).join("line")
  .attr("x1", d => x(toDate(d))).attr("x2", d => x(toDate(d)))
  .attr("y1", 352).attr("y2", 1560)
  .attr("stroke", "#f79646").attr("stroke-width", 2.5).attr("stroke-dasharray", "7,6");

// zero line
svg.append("line").attr("x1", plot.left).attr("x2", plot.right)
  .attr("y1", yL(0)).attr("y2", yL(0)).attr("stroke", "#d9d9d9").attr("stroke-width", 3);

// axes
const axisText = (g, size) => g.selectAll("text").attr("fill", "#c4c4c4")
  .style("font-size", size).style("font-weight", "bold").style("font-family", "Lato, sans-serif");

svg.append("g").attr("transform", `translate(${plot.left},0)`)
  .call(d3.axisLeft(yL).tickValues(leftTicks).tickFormat(d => d.toFixed(1) + "%").tickSize(0).tickPadding(20).tickSizeOuter(0))
  .call(g => g.select(".domain").attr("stroke", "#d9d9d9").attr("stroke-width", 2))
  .call(g => axisText(g, "20px"));

svg.append("g").attr("transform", `translate(${plot.right},0)`)
  .call(d3.axisRight(yR).tickValues(rightTicks).tickFormat(d => "$" + d.toFixed(1)).tickSize(8).tickPadding(10).tickSizeOuter(0))
  .call(g => g.select(".domain").attr("stroke", "#d9d9d9").attr("stroke-width", 2))
  .call(g => g.selectAll("line").attr("stroke", "#d9d9d9").attr("stroke-width", 2))
  .call(g => axisText(g, "20px"));

svg.append("g").attr("transform", `translate(0,${yL(0)})`)
  .call(d3.axisBottom(x).tickValues(tickDates).tickFormat(d3.timeFormat("%b-%y")).tickSize(0))
  .call(g => g.select(".domain").remove())
  .call(g => axisText(g, "19.5px"))
  .selectAll("text")
  .attr("text-anchor", "end").attr("dy", null).attr("y", null)
  .attr("transform", "translate(3,36) rotate(-45)");

// ---------- series ----------
svg.append("clipPath").attr("id", "clip").append("rect")
  .attr("x", plot.left).attr("y", plot.top)
  .attr("width", plot.right - plot.left).attr("height", plot.bottom - plot.top);

const series = svg.append("g").attr("clip-path", "url(#clip)");
const dotL = (data, color) => series.append("g").selectAll("circle").data(data).join("circle")
  .attr("cx", d => x(toDate(d[0]))).attr("cy", d => yL(d[1])).attr("r", 5).attr("fill", color);
dotL(blueDots, "#4f81bd");
dotL(greenDots, "#9bbb59");
series.append("g").selectAll("circle").data(redDots.concat(redLine)).join("circle")
  .attr("cx", d => x(toDate(d[0]))).attr("cy", d => yR(d[1])).attr("r", 5.5).attr("fill", "#c0504d");

const lineL = d3.line().x(d => x(toDate(d[0]))).y(d => yL(d[1]));
const lineR = d3.line().x(d => x(toDate(d[0]))).y(d => yR(d[1]));
series.append("path").datum(blueLine).attr("d", lineL)
  .attr("fill", "none").attr("stroke", "#4f81bd").attr("stroke-width", 4.5).attr("stroke-linejoin", "round");
series.append("path").datum(greenLine).attr("d", lineL)
  .attr("fill", "none").attr("stroke", "#9bbb59").attr("stroke-width", 4.5).attr("stroke-linejoin", "round");
series.append("path").datum(redLine).attr("d", lineR)
  .attr("fill", "none").attr("stroke", "#e9a3a1").attr("stroke-width", 4).attr("stroke-linejoin", "round");

// series labels
const labelBlock = (lines, px, py, color) => {
  const t = svg.append("text").attr("fill", color).style("font-size", "22.8px");
  lines.forEach((s, i) => t.append("tspan").attr("x", px).attr("y", py + i * 29.5)
    .attr("dominant-baseline", "central").text(s));
};
labelBlock(["Thousands of miles", "(change y-o-y)", "[left scale]"], 740, 571, "#4f81bd");
labelBlock(["Miles per person / per", "month", "(change y-o-y)", "[left scale]"], 446, 1468, "#9bbb59");
labelBlock(["Gasoline prices", "($ per gallon, inflation", "adjusted)", "[right scale]"], 1083, 1459, "#c0504d");

// ---------- histogram ----------
const xH = d3.scaleLinear().domain([0, 400]).range([2328, 2984]);
const xPct = d3.scaleLinear().domain([0, 1]).range([2328, 2984]);
const yB = d3.scaleBand().domain(priceBins).range([yR(0), yR(6)]);
const yP = d3.scalePoint().domain(priceBins).range([yR(0), yR(6)]);

svg.append("g").attr("transform", `translate(0,${yR(0)})`)
  .call(d3.axisBottom(xH).tickValues(countTicks.slice(1)).tickSize(-(yR(0) - 209)).tickFormat(""))
  .call(g => g.select(".domain").remove())
  .selectAll("line").attr("stroke", "#5e5e5e").attr("stroke-width", 1.5).attr("stroke-dasharray", "6,5");

svg.append("g").selectAll("rect").data(binCounts).join("rect")
  .attr("x", xH(0)).attr("y", (d, i) => yB(priceBins[i]))
  .attr("width", d => xH(d) - xH(0)).attr("height", yB.bandwidth() + 0.5)
  .attr("fill", "#da9694");

const cum = d3.cumsum(binCounts);
const total = cum[cum.length - 1];
const cdf = priceBins.map((b, i) => ({ b, n: binCounts[i], p: cum[i] / total })).filter(d => d.n > 0);
svg.append("path").datum(cdf)
  .attr("d", d3.line().x(d => xPct(d.p)).y(d => yP(d.b)))
  .attr("fill", "none").attr("stroke", "#c0504d").attr("stroke-width", 4.5).attr("stroke-linecap", "round");

svg.append("g").attr("transform", `translate(${xH(0)},0)`)
  .call(d3.axisLeft(yB).tickSize(0).tickPadding(20).tickSizeOuter(0))
  .call(g => g.select(".domain").attr("stroke", "#e8e8e8").attr("stroke-width", 2))
  .call(g => g.selectAll("text").attr("fill", "#f2f2f2").style("font-size", "20px")
    .style("font-weight", "bold").style("font-family", "Lato, sans-serif"));

svg.append("g").attr("transform", `translate(0,${yR(0)})`)
  .call(d3.axisBottom(xH).tickValues(countTicks).tickSize(0).tickPadding(14))
  .call(g => g.select(".domain").remove())
  .call(g => g.selectAll("text").attr("fill", "#7a7a7a").style("font-size", "21px").style("font-family", "Lato, sans-serif"));

svg.append("g").attr("transform", "translate(0,209)")
  .call(d3.axisTop(xPct).tickValues(pctTicks).tickFormat(d3.format(".0%")).tickSize(8).tickPadding(12).tickSizeOuter(0))
  .call(g => g.select(".domain").attr("stroke", "#d9d9d9").attr("stroke-width", 5))
  .call(g => g.selectAll("line").attr("stroke", "#d9d9d9").attr("stroke-width", 2))
  .call(g => g.selectAll("text").attr("fill", "#f2f2f2").style("font-size", "19px")
    .style("font-weight", "bold").style("font-family", "Lato, sans-serif"));

// ---------- reference lines & circles ----------
const ref = svg.append("g").attr("fill", "none");
const dashLine = (x1, y1, x2, y2, c) => ref.append("line").attr("x1", x1).attr("y1", y1)
  .attr("x2", x2).attr("y2", y2).attr("stroke", c).attr("stroke-width", 5).attr("stroke-dasharray", "18,10");
const ring = (cx, cy, c) => ref.append("circle").attr("cx", cx).attr("cy", cy).attr("r", 17)
  .attr("stroke", c).attr("stroke-width", 4).attr("stroke-dasharray", "9,5");

const redC = "#ff0000", grnC = "#00b050";
dashLine(x(toDate(todayDate)) + 18, yR(todayPrice), xPct(todayPct) - 18, yR(todayPrice), redC);
dashLine(xPct(todayPct), 213, xPct(todayPct), yR(todayPrice) - 18, redC);
ring(x(toDate(todayDate)), yR(todayPrice), redC);
ring(xPct(todayPct), yR(todayPrice), redC);

dashLine(x(toDate(prewarDate)) + 18, yR(prewarPrice), xPct(prewarPct) - 18, yR(prewarPrice), grnC);
dashLine(xPct(prewarPct), 213, xPct(prewarPct), yR(prewarPrice) - 18, grnC);
ring(x(toDate(prewarDate)), yR(prewarPrice), grnC);
ring(xPct(prewarPct), yR(prewarPrice), grnC);

// ---------- callouts ----------
function callout(b) {
  const { x: bx, y: by, w, h, r, side, a, c, tip, fill } = b;
  let p = `M${bx + r},${by} H${bx + w - r} A${r},${r} 0 0 1 ${bx + w},${by + r}`;
  if (side === "right") p += ` V${a} L${tip[0]},${tip[1]} L${bx + w},${c}`;
  p += ` V${by + h - r} A${r},${r} 0 0 1 ${bx + w - r},${by + h}`;
  if (side === "bottom") p += ` H${c} L${tip[0]},${tip[1]} L${a},${by + h}`;
  p += ` H${bx + r} A${r},${r} 0 0 1 ${bx},${by + h - r}`;
  if (side === "left") p += ` V${c} L${tip[0]},${tip[1]} L${bx},${a}`;
  p += ` V${by + r} A${r},${r} 0 0 1 ${bx + r},${by} Z`;
  const g = svg.append("g");
  g.append("path").attr("d", p).attr("fill", fill).attr("stroke", "#000").attr("stroke-width", 2.5);
  const t = g.append("text").attr("fill", "#fff").style("font-size", b.size || "22.5px").style("font-weight", "bold")
    .attr("text-anchor", b.anchor || "start");
  b.lines.forEach((s, i) => t.append("tspan").attr("x", b.tx).attr("y", b.ty + i * b.lh)
    .attr("dominant-baseline", "central").text(s));
}

const orange = "#e36c09";
callout({ x: 1250, y: 185, w: 268, h: 133, r: 24, side: "bottom", a: 1405, c: 1474, tip: [1478, 352], fill: orange,
  tx: 1259, ty: 210, lh: 29.5,
  lines: ["A strong peak in gasoline", "prices made it more", "difficult for miles driven", "to grow again [Feb22]"] });
callout({ x: 1571, y: 190, w: 267, h: 133, r: 24, side: "bottom", a: 1609, c: 1679, tip: [1602, 354], fill: orange,
  tx: 1579, ty: 214, lh: 29.5,
  lines: ["Conversely, a big drop in", "gasoline price helped to", "foster growth in miles", "driven [Feb22]"] });
callout({ x: 1447, y: 1367, w: 306, h: 250, r: 32, side: "left", a: 1403, c: 1470, tip: [1416, 1432], fill: orange,
  tx: 1461, ty: 1405, lh: 29.5, size: "22px",
  lines: ["The 2008-2009 crisis had an", "important impact on the", "observed decline in miles", "driven on those years (as",
    "miles driven declined, even", "with a significant decline in", "gasoline prices) [Aug18]"] });
callout({ x: 1789, y: 1430, w: 168, h: 145, r: 24, side: "bottom", a: 1817, c: 1858, tip: [1803, 1605], fill: orange,
  tx: 1873, ty: 1459, lh: 29.5, anchor: "middle", size: "22px",
  lines: ["Miles driven", "declined by", "40% y-o-y in", "April 2020!"] });
callout({ x: 2668, y: 651, w: 163, h: 195, r: 22, side: "right", a: 764, c: 814, tip: [2857, 843], fill: "#ff0000",
  tx: 2679, ty: 677, lh: 29.3, size: "22px",
  lines: ["Gasoline", "prices today", "are higher", "than 83% of", "historical", "observations"] });
callout({ x: 2717, y: 1055, w: 213, h: 168, r: 22, side: "left", a: 1150, c: 1195, tip: [2679, 1178], fill: "#00b050",
  tx: 2728, ty: 1081, lh: 29.7, size: "22px",
  lines: ["Gasoline prices", "were at the", "historical median", "(50th percentile)", "pre-war with Iran"] });
</script>
